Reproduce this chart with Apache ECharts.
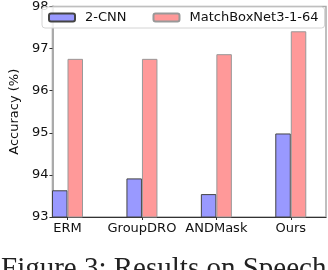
<!DOCTYPE html>
<html><head><meta charset="utf-8">
<script src="https://cdn.jsdelivr.net/npm/echarts@6/dist/echarts.min.js"></script>
<style>html,body{margin:0;padding:0;background:#fff}#c{width:328px;height:270px}</style>
</head><body><div id="c"></div>
<script>
const categories = ['ERM', 'GroupDRO', 'ANDMask', 'Ours'];
const cnnValues = [93.63, 93.91, 93.54, 94.97];
const matchboxValues = [96.73, 96.73, 96.84, 97.38];
const seriesNames = ['2-CNN', 'MatchBoxNet3-1-64'];
const yMin = 93, yMax = 98, yStep = 1;
const caption = 'Figure 3: Results on Speech';

const font = 'DejaVu Sans';
const chart = echarts.init(document.getElementById('c'), null, {renderer: 'canvas'});
chart.setOption({
  animation: false,
  grid: [
    {left: 30.3, right: -7.9, top: 5, bottom: 53},
    {left: 39.5, right: 2, top: 5, bottom: 53, show: true, borderColor: '#aaa', borderWidth: 1.5, backgroundColor: 'transparent'}
  ],
  legend: {
    left: 42, top: 7, padding: [4, 6, 4, 6],
    itemWidth: 26, itemHeight: 8, itemGap: 26,
    borderColor: '#d4d4d4', borderWidth: 1, borderRadius: 3,
    backgroundColor: 'rgba(255,255,255,0.85)',
    textStyle: {fontFamily: font, fontSize: 13, color: '#111', padding: [0, 0, 0, 5]},
    data: seriesNames
  },
  xAxis: [
    {type: 'category', gridIndex: 0, data: categories,
     axisLine: {show: false},
     axisTick: {show: true, alignWithLabel: true, length: 3, interval: 0, lineStyle: {color: '#333'}},
     axisLabel: {fontFamily: font, fontSize: 13, color: '#111', margin: 5, interval: 0}},
    {type: 'value', gridIndex: 1, min: 0, max: 1,
     axisLine: {show: true, lineStyle: {color: '#333', width: 1}},
     axisTick: {show: false}, axisLabel: {show: false}, splitLine: {show: false}}
  ],
  yAxis: [
    {type: 'value', gridIndex: 0, min: yMin, max: yMax, show: false, splitLine: {show: false}},
    {type: 'value', gridIndex: 1, min: yMin, max: yMax, interval: yStep,
     name: 'Accuracy (%)', nameLocation: 'middle', nameGap: 29,
     nameTextStyle: {fontFamily: font, fontSize: 13, color: '#111'},
     axisLine: {show: true, lineStyle: {color: '#aaa', width: 2}},
     axisTick: {show: true, length: 3, lineStyle: {color: '#333'}},
     axisLabel: {fontFamily: font, fontSize: 13, color: '#111', margin: 4},
     splitLine: {show: false}}
  ],
  series: [
    {name: seriesNames[0], type: 'bar', xAxisIndex: 0, yAxisIndex: 0, data: cnnValues,
     barWidth: 15.5, barGap: '0%',
     itemStyle: {color: '#9999ff', borderColor: '#444', borderWidth: 1}},
    {name: seriesNames[1], type: 'bar', xAxisIndex: 0, yAxisIndex: 0, data: matchboxValues,
     barWidth: 15.5, barGap: '0%',
     itemStyle: {color: '#ff9999', borderColor: '#999', borderWidth: 1}}
  ],
  graphic: [
    {type: 'text', left: 1, top: 255, z: 100,
     style: {text: caption, fontFamily: 'Liberation Serif', fontSize: 29, fill: '#222'}}
  ]
});
</script></body></html>
